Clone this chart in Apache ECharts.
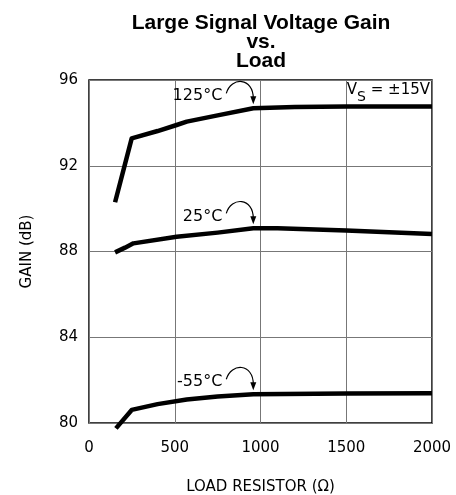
<!DOCTYPE html>
<html>
<head>
<meta charset="utf-8">
<script src="https://cdn.jsdelivr.net/npm/echarts@6/dist/echarts.min.js"></script>
<style>
  html, body { margin: 0; padding: 0; background: #fff; }
  #chart { width: 456px; height: 495px; }
</style>
</head>
<body>
<div id="chart"></div>
<script>
var xTicks = [0, 500, 1000, 1500, 2000];
var yTicks = [80, 84, 88, 92, 96];

// load resistor (ohm) vs gain (dB)
var load125 = [152, 249, 400, 511, 570, 750, 958, 1200, 1500, 2000];
var gain125 = [90.3, 93.28, 93.62, 93.9, 94.06, 94.35, 94.68, 94.74, 94.76, 94.76];

var load25 = [152, 210, 259, 511, 750, 958, 1100, 1500, 2000];
var gain25 = [87.96, 88.18, 88.38, 88.69, 88.88, 89.08, 89.08, 88.98, 88.82];

var loadM55 = [157, 249, 400, 570, 750, 958, 1500, 2000];
var gainM55 = [79.75, 80.61, 80.88, 81.1, 81.24, 81.34, 81.38, 81.39];

// temperature labels and where their arrows point
var labelText = ['125°C', '25°C', '-55°C'];
var arrowLoad = [958, 958, 958];
var arrowGain = [94.68, 89.08, 81.34];

var font = "'DejaVu Sans', sans-serif";

function pairs(xs, ys) {
    return xs.map(function (x, i) { return [x, ys[i]]; });
}

var chart = echarts.init(document.getElementById('chart'));

var lineSeries = function (xs, ys) {
    return {
        type: 'line',
        data: pairs(xs, ys),
        symbol: 'none',
        smooth: false,
        clip: false,
        lineStyle: { color: '#000', width: 4.5, join: 'round' },
        animation: false,
        z: 5
    };
};

chart.setOption({
    animation: false,
    title: {
        text: 'Large Signal Voltage Gain\nvs.\nLoad',
        left: 256,
        textAlign: 'center',
        top: 9,
        textStyle: {
            fontFamily: 'Liberation Sans, Arial, sans-serif',
            fontWeight: 'bold',
            fontSize: 21,
            lineHeight: 19,
            color: '#000'
        }
    },
    grid: {
        left: 89, right: 24, top: 80, bottom: 72,
        containLabel: false, outerBoundsMode: 'none',
        show: true, borderColor: '#000', borderWidth: 1.5
    },
    xAxis: {
        type: 'value',
        min: xTicks[0],
        max: xTicks[xTicks.length - 1],
        interval: 500,
        name: 'LOAD RESISTOR (Ω)',
        nameLocation: 'middle',
        nameGap: 57,
        nameTextStyle: { fontFamily: font, fontSize: 15, color: '#000' },
        axisLine: { show: false },
        axisTick: { show: false },
        axisLabel: { fontFamily: font, fontSize: 15, color: '#000', margin: 18, formatter: function (v) { return String(v); } },
        splitLine: { lineStyle: { color: '#777', width: 1 } }
    },
    yAxis: {
        type: 'value',
        min: yTicks[0],
        max: yTicks[yTicks.length - 1],
        interval: 4,
        name: 'GAIN (dB)',
        nameLocation: 'middle',
        nameGap: 54,
        nameRotate: 90,
        nameTextStyle: { fontFamily: font, fontSize: 15, color: '#000' },
        axisLine: { show: false },
        axisTick: { show: false },
        axisLabel: { fontFamily: font, fontSize: 15, color: '#000', margin: 11 },
        splitLine: { lineStyle: { color: '#777', width: 1 } }
    },
    series: [
        lineSeries(load125, gain125),
        lineSeries(load25, gain25),
        lineSeries(loadM55, gainM55)
    ]
});

// annotations: text + curved arrow, placed relative to the arrow tip
var graphics = [];
labelText.forEach(function (t, i) {
    var tip = chart.convertToPixel({ gridIndex: 0 }, [arrowLoad[i], arrowGain[i]]);
    var tx = tip[0], ty = tip[1] - 4;
    graphics.push({
        type: 'text',
        x: tx - 31, y: ty - 8,
        style: { text: t, font: '16px ' + font, fill: '#000', textAlign: 'right', textVerticalAlign: 'middle' }
    });
    graphics.push({
        type: 'bezierCurve',
        shape: { x1: tx - 27, y1: ty - 11, cpx1: tx - 22, cpy1: ty - 28, cpx2: tx, cpy2: ty - 27, x2: tx, y2: ty - 6 },
        style: { stroke: '#000', lineWidth: 1.2, fill: null }
    });
    graphics.push({
        type: 'polygon',
        shape: { points: [[tx, ty], [tx - 3, ty - 8], [tx + 3, ty - 8]] },
        style: { fill: '#000' }
    });
});

graphics.push({
    type: 'text',
    right: 26,
    top: 83,
    style: {
        text: '{v|V}{s|S}{v| = ±15V}',
        rich: {
            v: { fontFamily: font, fontSize: 15, color: '#000', verticalAlign: 'top' },
            s: { fontFamily: font, fontSize: 14, color: '#000', padding: [7, 0, 0, 0] }
        }
    }
});

chart.setOption({ graphic: graphics });
</script>
</body>
</html>
